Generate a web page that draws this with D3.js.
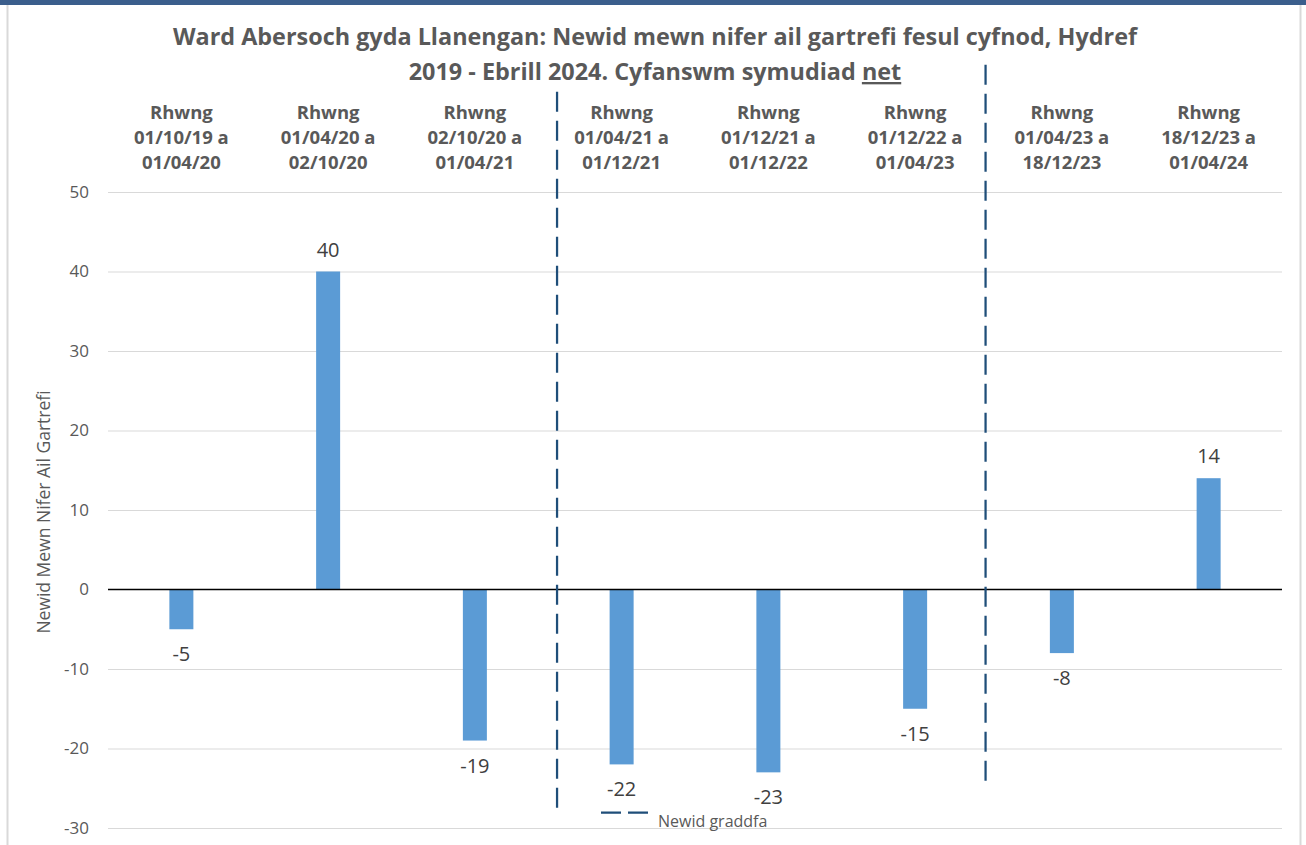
<!DOCTYPE html>
<html>
<head>
<meta charset="utf-8">
<script src="https://cdn.jsdelivr.net/npm/d3@7"></script>
<style>
  body { margin: 0; background: #fff; }
  text { font-family: "Open Sans", "Liberation Sans", sans-serif; }
</style>
</head>
<body>
<script>
// categories (three lines each) and values
const categories = [
    ["Rhwng", "01/10/19 a", "01/04/20"],
    ["Rhwng", "01/04/20 a", "02/10/20"],
    ["Rhwng", "02/10/20 a", "01/04/21"],
    ["Rhwng", "01/04/21 a", "01/12/21"],
    ["Rhwng", "01/12/21 a", "01/12/22"],
    ["Rhwng", "01/12/22 a", "01/04/23"],
    ["Rhwng", "01/04/23 a", "18/12/23"],
    ["Rhwng", "18/12/23 a", "01/04/24"]
];
const values = [-5, 40, -19, -22, -23, -15, -8, 14];
const yTicks = [50, 40, 30, 20, 10, 0, -10, -20, -30];
// "Newid graddfa" dashed lines: position in category units, and y extent
const dividerPos = [3.06, 5.98];
const dividerTop = [62.6, 66];
const dividerBottom = [-27.8, -24.6];

const W = 1306, H = 845;
const margin = {top: 192, right: 24, bottom: 17, left: 108};

let svg = d3.select("body").append("svg")
    .attr("width", W)
    .attr("height", H);

// frame
svg.append("rect").attr("x", 0).attr("y", 0).attr("width", W).attr("height", 5).attr("fill", "#3b5e8c");
svg.append("line").attr("x1", 7.5).attr("x2", 7.5).attr("y1", 5).attr("y2", H).attr("stroke", "#d9d9d9").attr("stroke-width", 2);
svg.append("line").attr("x1", 1300.5).attr("x2", 1300.5).attr("y1", 5).attr("y2", H).attr("stroke", "#d9d9d9").attr("stroke-width", 2);

let x = d3.scaleBand()
    .domain(d3.range(categories.length))
    .range([margin.left, 1282]);
let xPos = d3.scaleLinear()
    .domain([0, categories.length])
    .range([margin.left, 1282]);
let y = d3.scaleLinear()
    .domain([-30, 50])
    .range([828, 192]);

// gridlines
svg.append("g").selectAll("line")
    .data(yTicks.filter(d => d !== 0))
    .enter().append("line")
    .attr("x1", margin.left).attr("x2", 1282)
    .attr("y1", d => y(d) + 0.5).attr("y2", d => y(d) + 0.5)
    .attr("stroke", "#d9d9d9").attr("stroke-width", 1);

// y axis labels
let yAxis = svg.append("g")
    .attr("transform", "translate(" + margin.left + ",0)")
    .call(d3.axisLeft(y).tickValues(yTicks).tickFormat(d => String(d)).tickSize(0).tickPadding(19));
yAxis.select(".domain").remove();
yAxis.selectAll("text")
    .attr("font-size", 17)
    .attr("fill", "#595959")
    .style("font-family", "'Open Sans', sans-serif");

// bars
svg.selectAll(".bar")
    .data(values)
    .enter().append("rect")
    .attr("class", "bar")
    .attr("x", (d, i) => x(i) + x.bandwidth() / 2 - 12)
    .attr("width", 24)
    .attr("y", d => y(Math.max(0, d)))
    .attr("height", d => Math.abs(y(d) - y(0)))
    .attr("fill", "#5b9bd5");

// zero line
svg.append("line")
    .attr("x1", margin.left).attr("x2", 1282)
    .attr("y1", y(0)).attr("y2", y(0))
    .attr("stroke", "#000").attr("stroke-width", 1.5);

// data labels
svg.selectAll(".lbl")
    .data(values)
    .enter().append("text")
    .attr("class", "lbl")
    .attr("x", (d, i) => x(i) + x.bandwidth() / 2)
    .attr("y", d => d >= 0 ? y(d) - 15 : y(d) + 32)
    .attr("text-anchor", "middle")
    .attr("font-size", 20)
    .attr("fill", "#404040")
    .text(d => d);

// dashed dividers
svg.selectAll(".div")
    .data(dividerPos)
    .enter().append("line")
    .attr("x1", d => xPos(d)).attr("x2", d => xPos(d))
    .attr("y1", (d, i) => y(dividerTop[i]))
    .attr("y2", (d, i) => y(dividerBottom[i]))
    .attr("stroke", "#1f4e79")
    .attr("stroke-width", 2.25)
    .attr("stroke-dasharray", "20,9");

// category labels
let cat = svg.selectAll(".cat")
    .data(categories)
    .enter().append("text")
    .attr("class", "cat")
    .attr("x", (d, i) => x(i) + x.bandwidth() / 2)
    .attr("y", 119)
    .attr("text-anchor", "middle")
    .attr("font-size", 18.5)
    .attr("font-weight", "bold")
    .attr("fill", "#595959");
cat.selectAll("tspan")
    .data(d => d)
    .enter().append("tspan")
    .attr("x", function () { return d3.select(this.parentNode).attr("x"); })
    .attr("dy", (d, i) => i === 0 ? 0 : 25)
    .text(d => d);

// title
let title = svg.append("text")
    .attr("text-anchor", "middle")
    .attr("font-size", 23.4)
    .attr("font-weight", "bold")
    .attr("fill", "#595959");
title.append("tspan").attr("x", 655).attr("y", 45)
    .text("Ward Abersoch gyda Llanengan: Newid mewn nifer ail gartrefi fesul cyfnod, Hydref");
let t2 = title.append("tspan").attr("x", 655).attr("y", 80);
t2.append("tspan").text("2019 - Ebrill 2024. Cyfanswm symudiad ");
t2.append("tspan").attr("text-decoration", "underline").text("net");

// y axis title
svg.append("text")
    .attr("transform", "translate(50,512) rotate(-90)")
    .attr("text-anchor", "middle")
    .attr("font-size", 17.5)
    .attr("fill", "#595959")
    .text("Newid Mewn Nifer Ail Gartrefi");

// legend
svg.append("line")
    .attr("x1", 601).attr("x2", 648)
    .attr("y1", 812.5).attr("y2", 812.5)
    .attr("stroke", "#1f4e79").attr("stroke-width", 2.25)
    .attr("stroke-dasharray", "20,7");
svg.append("text")
    .attr("x", 658).attr("y", 827)
    .attr("font-size", 16)
    .attr("fill", "#595959")
    .text("Newid graddfa");
</script>
</body>
</html>
